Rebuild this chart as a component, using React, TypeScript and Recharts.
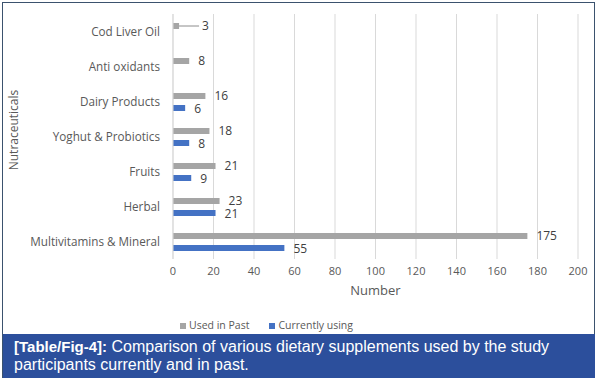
import React from 'react';
import { BarChart, Bar, XAxis, YAxis, CartesianGrid, LabelList, Label } from 'recharts';

const categories = [
  'Cod Liver Oil',
  'Anti oxidants',
  'Dairy Products',
  'Yoghut & Probiotics',
  'Fruits',
  'Herbal',
  'Multivitamins & Mineral',
];
const usedInPast = [3, 8, 16, 18, 21, 23, 175];
const currentlyUsing: (number | null)[] = [null, null, 6, 8, 9, 21, 55];
const xTicks = [0, 20, 40, 60, 80, 100, 120, 140, 160, 180, 200];

const data = categories.map((name, i) => ({
  name,
  past: usedInPast[i],
  current: currentlyUsing[i],
}));

const FONT = '"Open Sans", "Liberation Sans", sans-serif';
const GRAY = '#a5a5a5';
const BLUE = '#4472c4';
const TEXT = '#595959';
const LABEL = '#404040';

const PastLabel = (props: any) => {
  const { x, y, width, height, value } = props;
  if (value == null) return null;
  const cy = y + height / 2;
  const ex = x + width;
  if (value < 5) {
    return (
      <g>
        <line x1={ex} y1={cy} x2={ex + 20} y2={cy} stroke="#8c8c8c" strokeWidth={1} />
        <text x={ex + 23} y={cy} dy="0.35em" fill={LABEL} fontSize={12} fontFamily={FONT}>{value}</text>
      </g>
    );
  }
  return (
    <text x={ex + 9} y={cy - 0.5} dy="0.35em" fill={LABEL} fontSize={12} fontFamily={FONT}>{value}</text>
  );
};

const CurLabel = (props: any) => {
  const { x, y, width, height, value } = props;
  if (value == null) return null;
  const cy = y + height / 2;
  return (
    <text x={x + width + 9} y={cy + 0.5} dy="0.35em" fill={LABEL} fontSize={12} fontFamily={FONT}>{value}</text>
  );
};

const YTitle = () => (
  <text x={18} y={130} transform="rotate(-90, 18, 130)" textAnchor="middle" fill={TEXT} fontSize={12} fontFamily={FONT}>
    Nutraceuticals
  </text>
);

export default function App() {
  return (
    <div style={{ position: 'absolute', left: 0, top: 0, width: 598, height: 385, background: '#fff', fontFamily: FONT }}>
      <div style={{ position: 'absolute', left: 2, top: 2, width: 591, height: 374, border: '1.5px solid #3b526e' }} />
      <div style={{ position: 'absolute', left: 0, top: 0 }}>
        <BarChart
          width={598}
          height={305}
          data={data}
          layout="vertical"
          margin={{ top: 14, right: 20, left: 0, bottom: 4 }}
          barSize={6}
          barGap={6}
        >
          <CartesianGrid horizontal={false} vertical={true} stroke="#d9d9d9" />
          <XAxis
            type="number"
            domain={[0, 200]}
            ticks={xTicks}
            axisLine={false}
            tickLine={false}
            tick={{ fill: TEXT, fontSize: 11, fontFamily: FONT }}
            tickMargin={2}
            height={42}
            interval={0}
          >
            <Label value="Number" position="insideBottom" offset={6} fill={TEXT} fontSize={13} fontFamily={FONT} />
          </XAxis>
          <YAxis
            type="category"
            dataKey="name"
            width={173}
            axisLine={{ stroke: '#d9d9d9' }}
            tickLine={false}
            tick={{ fill: TEXT, fontSize: 11.7, fontFamily: FONT }}
            tickMargin={7}
            interval={0}
          >
            <Label content={YTitle} />
          </YAxis>
          <Bar dataKey="past" name="Used in Past" fill={GRAY} isAnimationActive={false}>
            <LabelList dataKey="past" content={PastLabel} />
          </Bar>
          <Bar dataKey="current" name="Currently using" fill={BLUE} isAnimationActive={false}>
            <LabelList dataKey="current" content={CurLabel} />
          </Bar>
        </BarChart>
      </div>
      <div style={{ position: 'absolute', left: 180, top: 318, fontSize: 10.5, color: TEXT, lineHeight: '14px', whiteSpace: 'nowrap' }}>
        <span style={{ display: 'inline-block', width: 6, height: 6, background: GRAY, marginRight: 3 }} />
        <span>Used in Past</span>
        <span style={{ display: 'inline-block', width: 6, height: 6, background: BLUE, marginLeft: 20, marginRight: 3 }} />
        <span>Currently using</span>
      </div>
      <div style={{ position: 'absolute', left: 3, top: 334, width: 592, height: 44, background: '#2c4f9c', color: '#fff', fontFamily: '"Liberation Sans", Arial, sans-serif', fontSize: 16, lineHeight: '18px', padding: '4px 0 0 11px', boxSizing: 'border-box' }}>
        <b style={{ fontSize: 15 }}>[Table/Fig-4]:</b> Comparison of various dietary supplements used by the study
        <br />participants currently and in past.
      </div>
    </div>
  );
}
